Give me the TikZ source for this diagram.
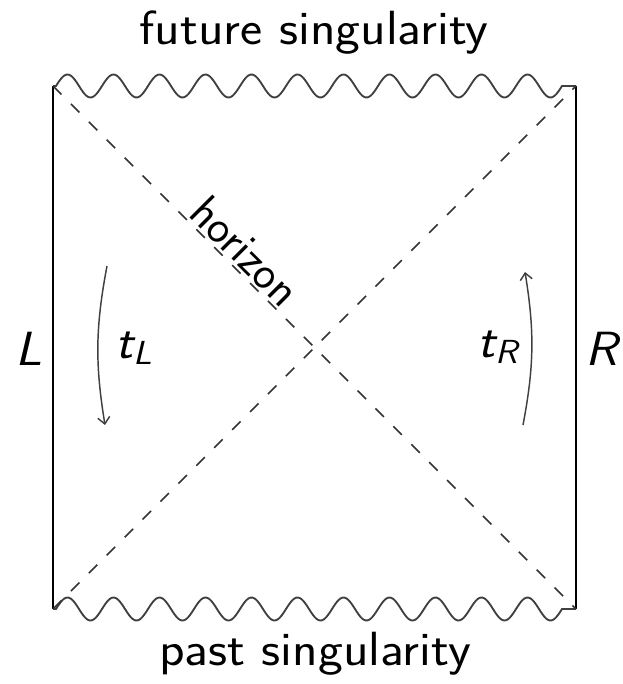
\documentclass[tikz,border=0pt]{standalone}
\usepackage{fontspec}
\usetikzlibrary{arrows.meta}
\newcommand{\wide}[1]{\scalebox{1.1}[1]{#1}}
\begin{document}
\begin{tikzpicture}[x=0.75pt,y=-0.75pt,
  lbl/.style={font=\fontsize{36}{42}\selectfont\sffamily, inner sep=0, anchor=base},
  wall/.style={line width=1.5pt, draw=black},
  sing/.style={line width=1.4pt, draw=black!75},
  hor/.style={line width=1.1pt, draw=black!80, dash pattern=on 9pt off 10pt},
  tarrow/.style={-{Straight Barb[length=5pt,width=9pt]}, line width=1.1pt, draw=black!75}]
\useasboundingbox (0,0) rectangle (622,684);
\coordinate (TL) at (53,86);
\coordinate (TR) at (576,86);
\coordinate (BL) at (53,609);
\coordinate (BR) at (576,609);
\draw[wall] (TL) -- (BL);
\draw[wall] (TR) -- (BR);
\draw[sing] (TL) -- (56,86) -- plot[domain=0:506, samples=300, smooth, variable=\t]
  ({56+\t},{86-11.5*sin(7.826087*\t)}) -- (TR);
\draw[sing] (BL) -- (56,609) -- plot[domain=0:506, samples=300, smooth, variable=\t]
  ({56+\t},{609-11.5*sin(7.826087*\t)}) -- (BR);
\draw[hor] (TL) -- (BR);
\draw[hor] (BL) -- (TR);
\coordinate (tL1) at (107,266);
\coordinate (tL2) at (105,425);
\coordinate (tR1) at (523,425);
\coordinate (tR2) at (525,272);
\draw[tarrow] (tL1) to[bend right=10] (tL2);
\draw[tarrow] (tR1) to[bend right=10] (tR2);
\node[lbl] (fut) at (314,45) {\wide{future singularity}};
\node[lbl] (past) at (315,665) {\wide{past singularity}};
\node[lbl] (L) at (29,365) {\wide{\itshape L}};
\node[lbl] (R) at (601,365) {\wide{\itshape R}};
\node[lbl] (tL) at (134,358) {\wide{\itshape t\raisebox{-5pt}{\fontsize{25}{25}\selectfont L}}};
\node[lbl] (tR) at (498,357) {\wide{\itshape t\raisebox{-5pt}{\fontsize{25}{25}\selectfont R}}};
\node[lbl, anchor=center, rotate=-45, font=\fontsize{35}{42}\selectfont\sffamily] (hz) at (246,251) {horizon};
\end{tikzpicture}
\end{document}
